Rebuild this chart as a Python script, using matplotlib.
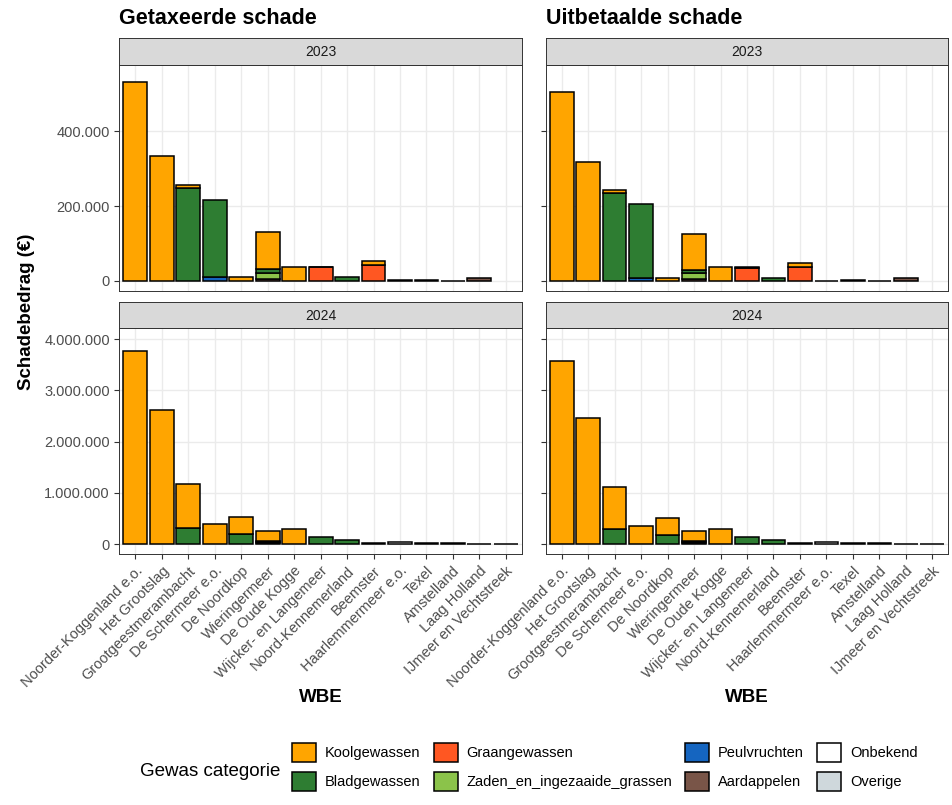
import matplotlib
matplotlib.use('Agg')
import matplotlib.pyplot as plt
from matplotlib.patches import Patch
from matplotlib.ticker import FuncFormatter
import numpy as np

plt.rcParams['font.family'] = ['Liberation Sans', 'DejaVu Sans']

# ── data ────────────────────────────────────────────────
wbe = ['Noorder-Koggenland e.o.', 'Het Grootslag', 'Grootgeestmerambacht',
       'De Schermeer e.o.', 'De Noordkop', 'Wieringermeer', 'De Oude Kogge',
       'Wijcker- en Langemeer', 'Noord-Kennemerland', 'Beemster',
       'Haarlemmermeer e.o.', 'Texel', 'Amstelland', 'Laag Holland',
       'IJmeer en Vechtstreek']

categories = ['Koolgewassen', 'Bladgewassen', 'Graangewassen',
              'Zaden_en_ingezaaide_grassen', 'Peulvruchten', 'Aardappelen',
              'Onbekend', 'Overige']
colors = ['#FFA500', '#2E7D32', '#FF5722', '#8BC34A',
          '#1565C0', '#795548', '#FFFFFF', '#CFD8DC']

# Getaxeerde schade 2023 (x 1000 euro), per categorie
tax23_kool  = [531, 333, 8, 0, 10, 101, 38, 2, 0, 10, 0, 0, 0, 0, 0]
tax23_blad  = [0, 0, 247, 205, 0, 10, 0, 0, 10, 0, 0, 0, 0, 0, 0]
tax23_graan = [0, 0, 0, 0, 0, 0, 0, 36, 0, 42, 0, 0, 0, 0, 0]
tax23_zaden = [0, 0, 0, 0, 0, 16, 0, 0, 0, 0, 0, 0, 0, 0, 0]
tax23_peul  = [0, 0, 0, 10, 0, 0, 0, 0, 0, 0, 0, 0, 0, 0, 0]
tax23_aard  = [0, 0, 0, 0, 0, 5, 0, 0, 0, 0, 0, 0, 0, 8, 0]
tax23_onb   = [0, 0, 0, 0, 0, 0, 0, 0, 0, 0, 2, 3, 1, 0, 0]
tax23_ov    = [0] * 15

# Uitbetaalde schade 2023 (x 1000 euro)
uit23_kool  = [505, 318, 8, 0, 9, 96, 37, 2, 0, 11, 0, 0, 0, 0, 0]
uit23_blad  = [0, 0, 234, 197, 0, 9, 0, 0, 9, 0, 0, 0, 0, 0, 0]
uit23_graan = [0, 0, 0, 0, 0, 0, 0, 35, 0, 38, 0, 0, 0, 0, 0]
uit23_zaden = [0, 0, 0, 0, 0, 16, 0, 0, 0, 0, 0, 0, 0, 0, 0]
uit23_peul  = [0, 0, 0, 8, 0, 0, 0, 0, 0, 0, 0, 0, 0, 0, 0]
uit23_aard  = [0, 0, 0, 0, 0, 5, 0, 0, 0, 0, 0, 0, 0, 7, 0]
uit23_onb   = [0, 0, 0, 0, 0, 0, 0, 0, 0, 0, 1, 2, 1, 0, 0]
uit23_ov    = [0] * 15

# Getaxeerde schade 2024 (x 1000 euro)
tax24_kool  = [3770, 2610, 860, 390, 340, 200, 300, 0, 0, 10, 0, 0, 0, 0, 0]
tax24_blad  = [0, 0, 310, 0, 190, 30, 0, 140, 70, 0, 0, 0, 0, 0, 0]
tax24_graan = [0] * 15
tax24_zaden = [0, 0, 0, 0, 0, 20, 0, 0, 0, 0, 0, 0, 0, 0, 0]
tax24_peul  = [0] * 15
tax24_aard  = [0, 0, 0, 0, 0, 10, 0, 0, 0, 0, 0, 0, 0, 5, 0]
tax24_onb   = [0, 0, 0, 0, 0, 0, 0, 0, 0, 0, 30, 15, 10, 0, 5]
tax24_ov    = [0] * 15

# Uitbetaalde schade 2024 (x 1000 euro)
uit24_kool  = [3580, 2450, 830, 360, 330, 190, 290, 0, 0, 10, 0, 0, 0, 0, 0]
uit24_blad  = [0, 0, 290, 0, 180, 30, 0, 140, 70, 0, 0, 0, 0, 0, 0]
uit24_graan = [0] * 15
uit24_zaden = [0, 0, 0, 0, 0, 20, 0, 0, 0, 0, 0, 0, 0, 0, 0]
uit24_peul  = [0] * 15
uit24_aard  = [0, 0, 0, 0, 0, 10, 0, 0, 0, 0, 0, 0, 0, 5, 0]
uit24_onb   = [0, 0, 0, 0, 0, 0, 0, 0, 0, 0, 30, 15, 10, 0, 5]
uit24_ov    = [0] * 15

tax23 = [tax23_kool, tax23_blad, tax23_graan, tax23_zaden, tax23_peul, tax23_aard, tax23_onb, tax23_ov]
uit23 = [uit23_kool, uit23_blad, uit23_graan, uit23_zaden, uit23_peul, uit23_aard, uit23_onb, uit23_ov]
tax24 = [tax24_kool, tax24_blad, tax24_graan, tax24_zaden, tax24_peul, tax24_aard, tax24_onb, tax24_ov]
uit24 = [uit24_kool, uit24_blad, uit24_graan, uit24_zaden, uit24_peul, uit24_aard, uit24_onb, uit24_ov]

years = ['2023', '2024']
titles = ['Getaxeerde schade', 'Uitbetaalde schade']

# ── layout (pixels) ─────────────────────────────────────
W, H = 953, 805
fig = plt.figure(figsize=(W / 100, H / 100), dpi=100)

def px_axes(x0, y0, x1, y1):
    return fig.add_axes([x0 / W, 1 - y1 / H, (x1 - x0) / W, (y1 - y0) / H])

cols = [(119.5, 521.7), (545.7, 948.3)]
rows = [(38.3, 65.0, 291.0), (301.7, 328.3, 554.0)]   # strip top, panel top, panel bottom
ylims = [(-27e3, 577e3), (-0.195e6, 4.21e6)]
yticks = [[0, 200000, 400000], [0, 1e6, 2e6, 3e6, 4e6]]
panel_data = [[tax23, uit23], [tax24, uit24]]

GRID = '#EBEBEB'
BORDER = '#333333'
fmt = FuncFormatter(lambda v, p: f'{int(round(v)):,}'.replace(',', '.'))

x = np.arange(len(wbe))
for r, (st, pt, pb) in enumerate(rows):
    for c, (x0, x1) in enumerate(cols):
        ax = px_axes(x0, pt, x1, pb)
        bottom = np.zeros(len(wbe))
        # ggplot stacks first level on top -> draw from last level upwards
        for vals, col in zip(panel_data[r][c][::-1], colors[::-1]):
            v = np.array(vals, dtype=float) * 1000
            mask = v > 0
            ax.bar(x[mask], v[mask], bottom=bottom[mask], width=0.9,
                   color=col, edgecolor='black', lw=1.1, zorder=3)
            bottom += v
        ax.set_xlim(-0.6, len(wbe) - 0.4)
        ax.set_ylim(*ylims[r])
        ax.set_yticks(yticks[r])
        ax.yaxis.set_major_formatter(fmt)
        ax.set_xticks(x)
        ax.grid(color=GRID, lw=1.0, zorder=0)
        ax.set_axisbelow(True)
        for s in ax.spines.values():
            s.set_color(BORDER); s.set_linewidth(0.7)
        ax.tick_params(colors=BORDER, length=3.5, width=0.8, labelcolor='#4D4D4D',
                       labelsize=10.5)
        if c == 1:
            ax.set_yticklabels([])
        if r == 0:
            ax.set_xticklabels([])
            ax.tick_params(axis='x', length=0)
        else:
            ax.set_xticklabels(wbe, rotation=45, ha='right', va='top',
                               rotation_mode='anchor')
        # strip
        sax = px_axes(x0, st, x1, pt)
        sax.set_facecolor('#D9D9D9')
        sax.set_xticks([]); sax.set_yticks([])
        for s in sax.spines.values():
            s.set_color(BORDER); s.set_linewidth(0.7)
        sax.text(0.5, 0.48, years[r], transform=sax.transAxes, ha='center',
                 va='center', fontsize=10, color='#1A1A1A')

# titles and axis labels
for c, (x0, x1) in enumerate(cols):
    fig.text(x0 / W, 1 - 19 / H, titles[c], fontsize=15.5, fontweight='bold',
             ha='left', va='center', color='black')
    fig.text((x0 + x1) / 2 / W, 1 - 697 / H, 'WBE', fontsize=13.5,
             fontweight='bold', ha='center', va='center')
fig.text(27 / W, 1 - 312 / H, 'Schadebedrag (€)', fontsize=13.5,
         fontweight='bold', rotation=90, ha='center', va='center')

# legend
handles = [Patch(facecolor=col, edgecolor='black', lw=1.1) for col in colors]
fig.legend(handles, categories, ncol=4, loc='center left',
           bbox_to_anchor=(292 / W, 1 - 767 / H), frameon=False, fontsize=10.5,
           handlelength=1.65, handleheight=1.65, handletextpad=0.6,
           columnspacing=0.9, labelspacing=0.7, borderpad=0, borderaxespad=0)
fig.text(140 / W, 1 - 771 / H, 'Gewas categorie', fontsize=13.5,
         ha='left', va='center')

fig.savefig('out.png', dpi=100)
